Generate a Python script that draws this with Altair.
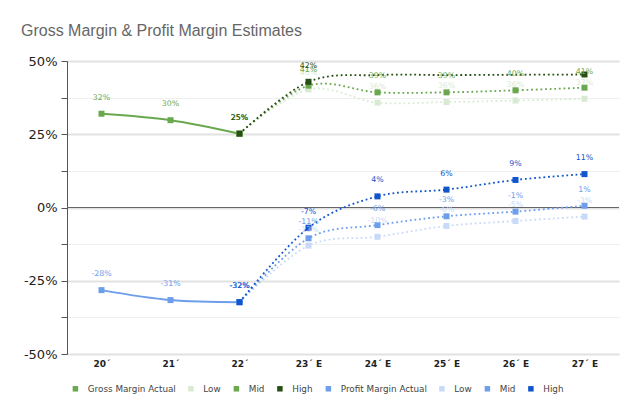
import altair as alt
import pandas as pd

categories = ["20´", "21´", "22´", "23´ E", "24´ E", "25´ E", "26´ E", "27´ E"]
actual_cats = categories[:3]
est_cats = categories[2:]

gm_actual = [32.0, 29.8, 25.2]
gm_actual_lbl = ["32%", "30%", "25%"]
gm_low = [25.2, 40.3, 35.8, 36.0, 36.5, 37.1]
gm_low_lbl = ["25%", "40%", "36%", "36%", "36%", "37%"]
gm_mid = [25.2, 41.6, 39.3, 39.3, 40.0, 40.9]
gm_mid_lbl = ["25%", "41%", "39%", "39%", "40%", "41%"]
gm_high = [25.2, 42.9, 45.2, 45.2, 45.3, 45.4]
gm_high_lbl = ["25%", "42%", "", "", "", ""]
gm_high_marker = [True, True, False, False, False, True]

pm_actual = [-28.2, -31.6, -32.3]
pm_actual_lbl = ["-28%", "-31%", "-32%"]
pm_low = [-32.3, -13.0, -10.0, -6.3, -4.6, -3.1]
pm_low_lbl = ["-32%", "-13%", "-10%", "-6%", "-5%", "-3%"]
pm_mid = [-32.3, -10.5, -6.0, -3.0, -1.4, 0.6]
pm_mid_lbl = ["-32%", "-11%", "-6%", "-3%", "-1%", "1%"]
pm_high = [-32.3, -6.9, 3.8, 6.1, 9.4, 11.4]
pm_high_lbl = ["-32%", "-7%", "4%", "6%", "9%", "11%"]

series_ids = ["Gross Margin Actual", "GM Low", "GM Mid", "GM High",
              "Profit Margin Actual", "PM Low", "PM Mid", "PM High"]
series_colors = ["#6aa84f", "#d9ead3", "#6aa84f", "#274e13",
                 "#6d9eeb", "#c9daf8", "#6d9eeb", "#1155cc"]
series_kind = ["actual", "est", "est", "est", "actual", "est", "est", "est"]
series_cats = [actual_cats, est_cats, est_cats, est_cats,
               actual_cats, est_cats, est_cats, est_cats]
series_vals = [gm_actual, gm_low, gm_mid, gm_high, pm_actual, pm_low, pm_mid, pm_high]
series_lbls = [gm_actual_lbl, gm_low_lbl, gm_mid_lbl, gm_high_lbl,
               pm_actual_lbl, pm_low_lbl, pm_mid_lbl, pm_high_lbl]
series_markers = [None, None, None, gm_high_marker, None, None, None, None]

rows = []
for sid, kind, cats, vals, lbls, mk in zip(series_ids, series_kind, series_cats,
                                           series_vals, series_lbls, series_markers):
    for i, (c, v, l) in enumerate(zip(cats, vals, lbls)):
        rows.append({"series": sid, "kind": kind, "cat": c, "value": v, "label": l,
                     "marker": True if mk is None else mk[i]})
df = pd.DataFrame(rows)

color_scale = alt.Scale(domain=series_ids, range=series_colors)

y_axis = alt.Axis(
    values=[-50, -37.5, -25, -12.5, 0, 12.5, 25, 37.5, 50],
    labelExpr="datum.value % 25 == 0 ? datum.value + '%' : ''",
    domainColor="#555", tickColor="#555", tickSize=6,
    labelFont="DejaVu Sans", labelFontSize=13, labelColor="#222", labelPadding=4,
    gridColor={"condition": {"test": "datum.value % 25 == 0", "value": "#e2e2e2"}, "value": "#efefef"},
    gridWidth={"condition": {"test": "datum.value % 25 == 0", "value": 2}, "value": 1},
    title=None,
)
x_axis = alt.Axis(domain=False, ticks=False, grid=False, labelAngle=0,
                  labelFont="DejaVu Sans", labelFontWeight="bold", labelFontSize=9,
                  labelColor="#222", labelPadding=5, title=None)

y_enc = alt.Y("value:Q", scale=alt.Scale(domain=[-50, 50], nice=False, zero=False), axis=y_axis)
x_enc = alt.X("cat:N", scale=alt.Scale(type="point", padding=0.5, domain=categories), axis=x_axis)

zero = alt.Chart(pd.DataFrame({"value": [0]})).mark_rule(color="#666", strokeWidth=1).encode(y=y_enc)

layers = [zero]
for sid, kind, col in zip(series_ids, series_kind, series_colors):
    sub = df[df.series == sid]
    if kind == "actual":
        m = alt.Chart(sub).mark_line(interpolate="cardinal", strokeWidth=2, color=col)
    else:
        m = alt.Chart(sub).mark_line(interpolate="cardinal", strokeWidth=1.8, color=col,
                                     strokeDash=[1.8, 2.8])
    layers.append(m.encode(x=x_enc, y=y_enc))

points = alt.Chart(df[df.marker]).mark_point(shape="square", filled=True, size=36, opacity=1).encode(
    x=x_enc, y=y_enc,
    color=alt.Color("series:N", scale=color_scale, legend=alt.Legend(
        orient="none", legendX=4, legendY=323, direction="horizontal", columns=8,
        symbolType="square", symbolSize=30, symbolStrokeWidth=0, padding=0,
        labelFont="DejaVu Sans", labelFontSize=8.8, labelColor="#444",
        labelOffset=8, columnPadding=10.5, title=None,
        labelExpr="indexof(datum.label, 'Actual') >= 0 ? datum.label : slice(datum.label, 3)",
    )),
)
texts = alt.Chart(df[df.label != ""]).mark_text(dy=-16, font="DejaVu Sans", fontSize=7.8,
                                                  baseline="middle").encode(
    x=x_enc, y=y_enc, text="label:N",
    color=alt.Color("series:N", scale=color_scale, legend=None),
)
layers += [points, texts]

chart = alt.layer(*layers).properties(
    width=552, height=293,
    padding={"left": 59, "top": 53, "right": 13, "bottom": 54},
    autosize="none",
    title=alt.TitleParams("Gross Margin & Profit Margin Estimates", anchor="start", dx=-46,
                          font="Liberation Sans", fontSize=16, fontWeight="normal",
                          color="#666", offset=16, frame="group"),
).configure_view(stroke=None)

chart.save("out.html", embed_options={"renderer": "svg", "actions": False})
